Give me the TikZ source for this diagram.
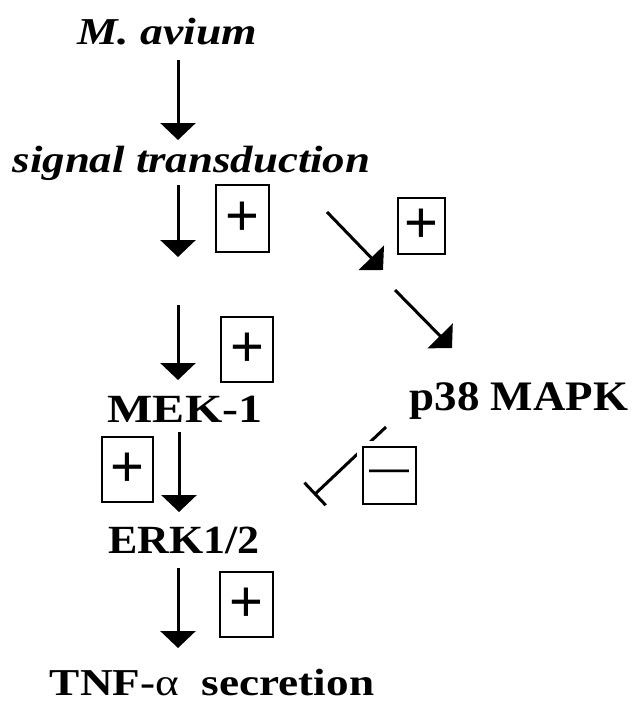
\documentclass[tikz,border=0pt]{standalone}
\usepackage{fontspec}
\usepackage{graphicx}
\setmainfont{Liberation Serif}
\newfontfamily\signfont{Liberation Sans}
\usetikzlibrary{arrows.meta}
% label text: size, horizontal stretch, text
\newcommand\lbltext[3]{\fontsize{#1}{#1}\selectfont\scalebox{#2}[1]{#3}}

\begin{document}
\begin{tikzpicture}[x=1pt,y=-1pt,
  lbl/.style={inner sep=0pt, anchor=base, font=\bfseries},
  act/.style={line width=3pt, -{Triangle[length=17pt,width=35pt]}},
  inh/.style={line width=3pt, -{Bar[width=31pt]}},
  sgnbox/.style={draw, line width=1.3pt, inner sep=0pt, fill=white,
    font=\signfont\fontsize{58}{58}\selectfont},
  halo/.style={preaction={draw=white, line width=12pt}}
]
\useasboundingbox (0,0) rectangle (634,701);

% pathway labels
\node[lbl] (mav) at (167,45) {\lbltext{38}{1.2}{\itshape M. avium}};
\node[lbl] (sig) at (191.5,172) {\lbltext{38}{1.18}{\itshape signal transduction}};
\node[lbl] (mek) at (185,422) {\lbltext{40}{1.2}{MEK-1}};
\node[lbl] (erk) at (184,553) {\lbltext{40}{1.1}{ERK1/2}};
\node[lbl] (p38) at (519,410) {\lbltext{42}{1.07}{p38 MAPK}};
\node[lbl] (tnf) at (212,695) {\lbltext{38}{1.19}{TNF-{\mdseries α}\ \ secretion}};

% arrow end points
\coordinate (a1s) at (178,60);  \coordinate (a1e) at (178,140);
\coordinate (a2s) at (178,185); \coordinate (a2e) at (178,257);
\coordinate (a3s) at (178,305); \coordinate (a3e) at (178,380);
\coordinate (a4s) at (179,432); \coordinate (a4e) at (179,512);
\coordinate (a5s) at (178,568); \coordinate (a5e) at (178,648);
\coordinate (d1s) at (327,212); \coordinate (d1e) at (383,270);
\coordinate (d2s) at (395,290); \coordinate (d2e) at (452,348);
\coordinate (is) at (386,427);  \coordinate (ie) at (314,495);

% activating steps
\draw[act] (a1s) -- (a1e);
\draw[act] (a2s) -- (a2e);
\draw[act] (a3s) -- (a3e);
\draw[act] (a4s) -- (a4e);
\draw[act] (a5s) -- (a5e);
\draw[act] (d1s) -- (d1e);
\draw[act] (d2s) -- (d2e);

% inhibition by p38 MAPK
\draw[inh] (is) -- (ie);

% sign boxes
\node[sgnbox, minimum width=53pt, minimum height=67pt] (b1) at (242.5,218.5) {+};
\node[sgnbox, minimum width=47pt, minimum height=56pt] (b2) at (421.5,226) {+};
\node[sgnbox, minimum width=52pt, minimum height=65pt] (b3) at (247,349.5) {+};
\node[sgnbox, minimum width=51pt, minimum height=65pt] (b4) at (127.5,469.5) {+};
\node[sgnbox, halo, minimum width=53pt, minimum height=57pt,
  font=\signfont\fontsize{40}{40}\selectfont] (b5) at (389.5,475.5) {—};
\node[sgnbox, minimum width=53pt, minimum height=65pt] (b6) at (246.5,604.5) {+};
\end{tikzpicture}
\end{document}
